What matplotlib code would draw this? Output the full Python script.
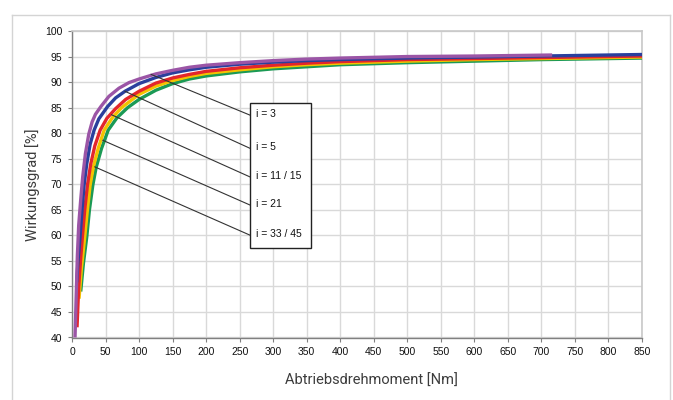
import matplotlib
matplotlib.use("Agg")
import matplotlib.pyplot as plt
from matplotlib.lines import Line2D

# ---- data ----
t_i3 = [4.5, 6, 8, 10, 13, 16, 20, 25, 30, 35, 43, 55, 70, 85, 100, 125, 150, 175, 200,
        250, 300, 350, 400, 450, 500, 600, 716]
e_i3 = [40, 47, 56, 62, 67, 71.5, 76, 79.8, 82.2, 83.7, 85.2, 87.2, 88.8, 89.9, 90.6, 91.6,
        92.3, 92.9, 93.3, 93.8, 94.2, 94.5, 94.7, 94.85, 95.0, 95.1, 95.3]

t_i5 = [7, 9, 12, 15, 18, 22, 27, 33, 40, 53, 65, 79, 100, 125, 150, 175, 200,
        250, 300, 350, 400, 500, 600, 700, 850]
e_i5 = [50.8, 55, 59.7, 65, 69.8, 74, 77.8, 80.6, 82.8, 85.2, 86.9, 88.2, 89.7, 90.9, 91.8,
        92.4, 92.9, 93.5, 93.9, 94.2, 94.4, 94.7, 94.9, 95.1, 95.4]

t_i11 = [7.5, 10, 13, 15.5, 19, 23, 28, 34, 42, 52, 65, 80, 100, 125, 150, 175, 200,
         250, 300, 350, 400, 500, 600, 700, 850]
e_i11 = [42, 50, 55.5, 59.7, 65, 69.8, 74, 77.5, 80.6, 82.9, 84.8, 86.6, 88.2, 89.8, 90.8,
         91.5, 92.1, 92.8, 93.3, 93.7, 94.0, 94.4, 94.6, 94.8, 95.1]

t_i21 = [10.5, 14, 19, 23, 27, 32, 39, 48, 60, 74, 100, 125, 150, 175, 200,
         250, 300, 350, 400, 500, 600, 700, 850]
e_i21 = [47.6, 53.5, 59.7, 65, 69.8, 73.5, 77, 80.6, 83, 85.0, 87.6, 89.2, 90.3, 91.1, 91.7,
         92.4, 93.0, 93.4, 93.7, 94.1, 94.4, 94.6, 94.9]

t_i33 = [13, 17, 22, 26, 31, 36, 44, 54, 67, 83, 100, 125, 150, 175, 200,
         250, 300, 350, 400, 500, 600, 700, 850]
e_i33 = [49, 54.5, 59.7, 65, 69.8, 73.3, 77, 80.6, 83, 85.0, 86.6, 88.4, 89.7, 90.6, 91.2,
         92.0, 92.6, 93.0, 93.4, 93.8, 94.1, 94.4, 94.7]

labels = ["i = 3", "i = 5", "i = 11 / 15", "i = 21", "i = 33 / 45"]
colors = ["#9b55a6", "#2a3f9d", "#e3262b", "#f3c300", "#1b9a55"]

# callout anchors on the curves and label positions in the box
anchor_x = [118, 79, 59, 46, 34]
anchor_y = [91.5, 88.2, 83.6, 78.6, 73.4]
label_y = [83.5, 77.0, 71.4, 65.9, 60.0]
box_x0, box_x1, box_y0, box_y1 = 266, 357, 57.5, 86.0

x_ticks = list(range(0, 851, 50))
y_ticks = list(range(40, 101, 5))

# ---- figure ----
W, H = 673, 400
fig = plt.figure(figsize=(W / 100, H / 100), dpi=100)

# outer light frame
for xs, ys in [([12, 12], [0, 385]), ([12, 670], [385, 385]), ([670, 670], [385, 0])]:
    fig.add_artist(Line2D([x / W for x in xs], [y / H for y in ys], color="#d4d4d4", lw=1.0))

ax = fig.add_axes([72 / W, (H - 337.5) / H, (642 - 72) / W, (337.5 - 31) / H])

series = [(t_i3, e_i3), (t_i5, e_i5), (t_i11, e_i11), (t_i21, e_i21), (t_i33, e_i33)]
for (t, e), c in zip(series[::-1], colors[::-1]):
    ax.plot(t, e, color=c, lw=2.4, solid_capstyle="butt", solid_joinstyle="round", zorder=3)

ax.set_xlim(0, 850)
ax.set_ylim(40, 100)
ax.set_xticks(x_ticks)
ax.set_yticks(y_ticks)
ax.grid(True, color="#d9d9d9", lw=1.0, zorder=0)
ax.set_axisbelow(True)

tick_font = {"family": "Liberation Sans", "size": 7.5, "color": "#111111"}
ax.set_xticklabels([str(v) for v in x_ticks], fontdict=tick_font)
ax.set_yticklabels([str(v) for v in y_ticks], fontdict=tick_font)
ax.tick_params(axis="both", length=3, width=0.8, color="#808080", pad=4)

for s in ["left", "bottom"]:
    ax.spines[s].set_color("#808080")
    ax.spines[s].set_linewidth(1.0)
for s in ["top", "right"]:
    ax.spines[s].set_color("#c8c8c8")
    ax.spines[s].set_linewidth(1.2)

# callout box
ax.add_patch(plt.Rectangle((box_x0, box_y0), box_x1 - box_x0, box_y1 - box_y0,
                           facecolor="white", edgecolor="#222222", lw=1.0, zorder=5))
for ax_, ay, ly, lab in zip(anchor_x, anchor_y, label_y, labels):
    ax.plot([ax_, box_x0], [ay, ly], color="#333333", lw=0.8, zorder=4)
    ax.text(box_x0 + 8, ly + 0.3, lab, fontdict=tick_font, va="center", ha="left", zorder=6)

label_font = {"family": "Roboto", "size": 10.5, "weight": "normal", "color": "#3c3c3c"}
fig.text(371 / W, 1 - 381 / H, "Abtriebsdrehmoment [Nm]", ha="center", va="center", fontdict=label_font)
fig.text(33 / W, 1 - 185 / H, "Wirkungsgrad [%]", ha="center", va="center", rotation=90, fontdict=label_font)

fig.savefig("out.png", dpi=100)
